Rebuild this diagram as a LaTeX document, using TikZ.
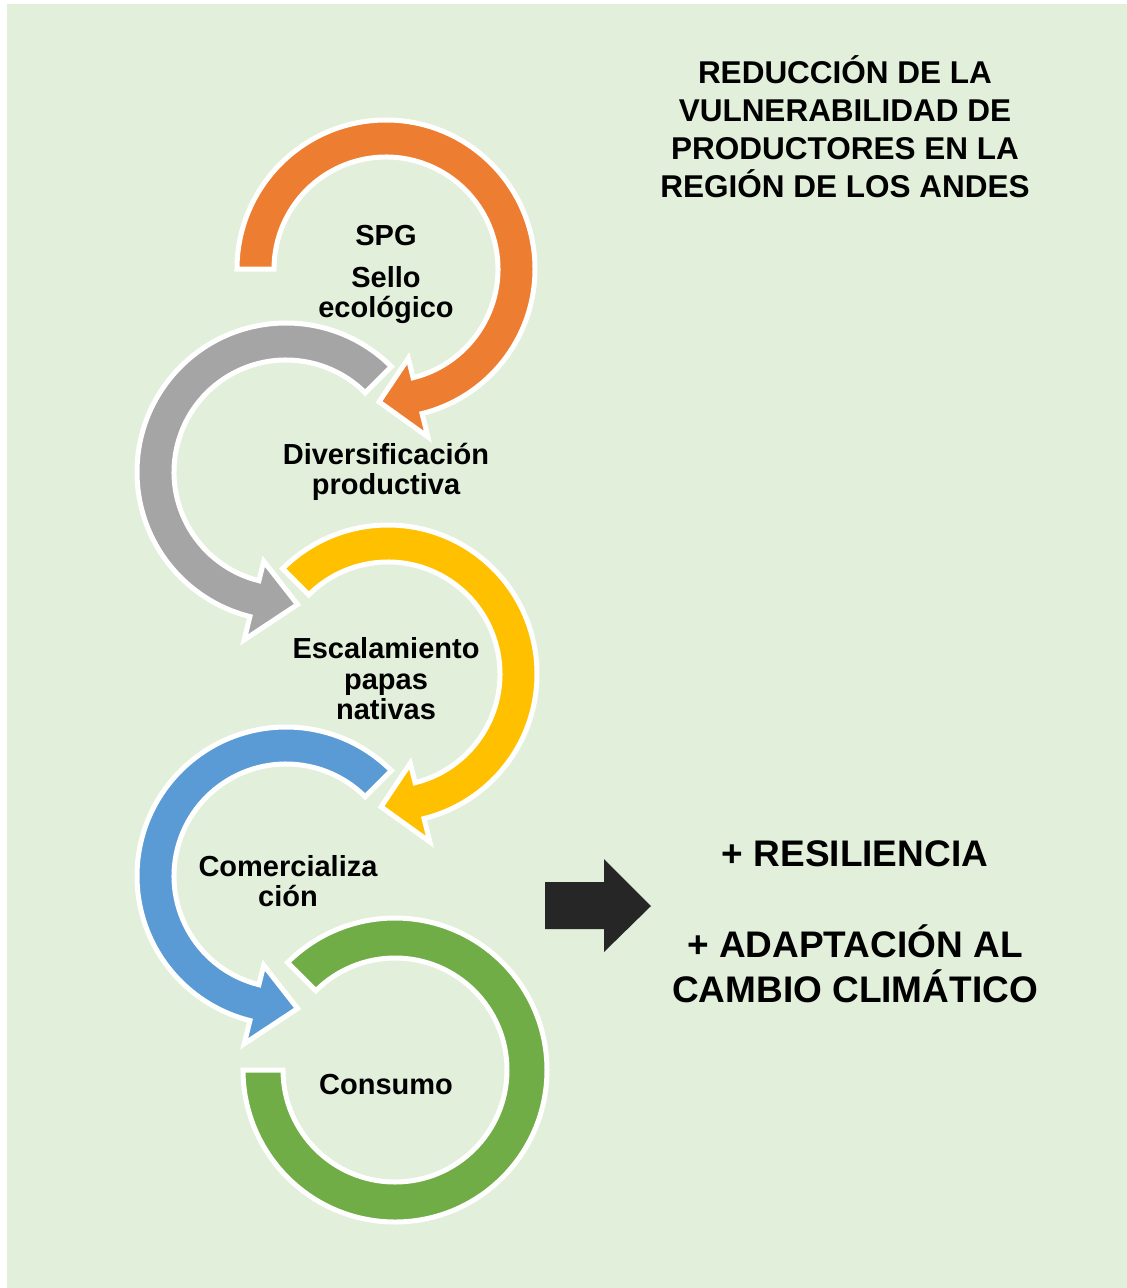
\documentclass[tikz,border=0pt]{standalone}
\usepackage{fontspec}
\setmainfont{Liberation Sans}
\definecolor{bgg}{HTML}{E2EFDA}
\definecolor{aorange}{HTML}{ED7D31}
\definecolor{agrey}{HTML}{A5A5A5}
\definecolor{ayellow}{HTML}{FFC000}
\definecolor{ablue}{HTML}{5B9BD5}
\definecolor{agreen}{HTML}{70AD47}
\definecolor{adark}{HTML}{262626}
\newcommand\ringarrow[5]{%
  \filldraw[fill=#2, draw=white, line width=5, line join=miter]
    ([shift={(#3:149)}]#1) arc[start angle=#3, end angle=#4, radius=149]
    -- ([shift={(#4:173)}]#1) -- ([shift={(#5:133)}]#1) -- ([shift={(#4:92)}]#1)
    -- ([shift={(#4:112)}]#1) arc[start angle=#4, end angle=#3, radius=112] -- cycle;}
\tikzset{
  lbl/.style={font=\bfseries\fontsize{29}{30.5}\selectfont, align=center, inner sep=0pt},
  ttl/.style={font=\bfseries\fontsize{31.5}{38}\selectfont, align=center, inner sep=0pt},
  big/.style={font=\bfseries\fontsize{37}{45}\selectfont, align=center, inner sep=0pt}
}
\begin{document}
\begin{tikzpicture}[x=1pt, y=1pt]
\useasboundingbox (0,0) rectangle (1127,-1288);
\fill[white] (0,0) rectangle (1127,-1288);
\fill[bgg] (7,-4) rectangle (1127,-1288);
\coordinate (c1) at (386,-269);
\coordinate (c2) at (286,-472);
\coordinate (c3) at (388,-674);
\coordinate (c4) at (286,-876);
\coordinate (c5) at (395,-1070);
\ringarrow{c1}{aorange}{180}{-76}{-93}
\ringarrow{c2}{agrey}{45}{256}{275}
\ringarrow{c3}{ayellow}{135}{-76}{-93}
\ringarrow{c4}{ablue}{45}{256}{275}
\filldraw[fill=agreen, draw=white, line width=5, line join=miter]
  ([shift={(135:152)}]c5) arc[start angle=135, end angle=-180, radius=152]
  -- ([shift={(180:112)}]c5) arc[start angle=-180, end angle=135, radius=112] -- cycle;
\node[lbl] (spg) at (386,-236) {SPG};
\node[lbl] (sello) at (386,-295) {Sello\\ecológico};
\node[lbl] (div) at (386,-472) {Diversificación\\productiva};
\node[lbl] (esc) at (386,-679) {Escalamiento\\papas\\nativas};
\node[lbl] (com) at (288,-881) {Comercializa\\ción};
\node[lbl] (con) at (386,-1085) {Consumo};
\node[ttl] (title) at (845,-127) {REDUCCIÓN DE LA\\VULNERABILIDAD DE\\PRODUCTORES EN LA\\REGIÓN DE LOS ANDES};
\fill[adark] (545,-882) -- (604,-882) -- (604,-859) -- (651,-906) -- (604,-952) -- (604,-929) -- (545,-929) -- cycle;
\node[big] (res) at (855,-854) {+ RESILIENCIA};
\node[big] (ada) at (855,-964) {+ ADAPTACIÓN AL\\CAMBIO CLIMÁTICO};
\end{tikzpicture}
\end{document}
